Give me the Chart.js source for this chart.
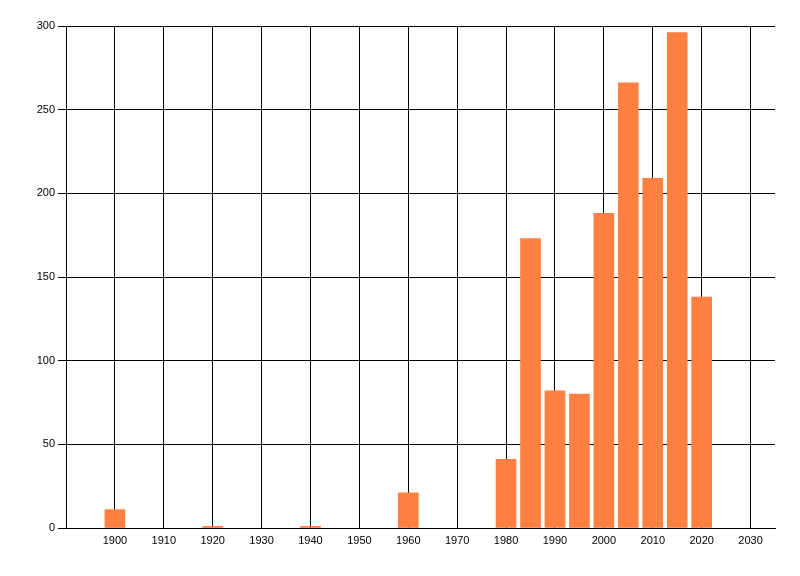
<!DOCTYPE html>
<html lang="en">
<head>
    <meta charset="UTF-8">
    <title>Counts per year</title>
    <style>
        body {
            margin: 0;
            padding: 0;
            background-color: #fff;
        }
        canvas {
            display: block;
        }
    </style>
</head>
<body>

<canvas id="yearChart" width="800" height="576"></canvas>

<script src="https://cdn.jsdelivr.net/npm/chart.js"></script>
<script>
    // values
    const years = [1900, 1920, 1940, 1960, 1980, 1985, 1990, 1995, 2000, 2005, 2010, 2015, 2020];
    const counts = [11, 1, 1, 21, 41, 173, 82, 80, 188, 266, 209, 296, 138];
    const xTicks = [1900, 1910, 1920, 1930, 1940, 1950, 1960, 1970, 1980, 1990, 2000, 2010, 2020, 2030];
    const yTicks = [0, 50, 100, 150, 200, 250, 300];

    const points = years.map((y, i) => ({ x: y, y: counts[i] }));

    Chart.defaults.font.family = "'Liberation Sans', Arial, sans-serif";
    Chart.defaults.font.size = 11;
    Chart.defaults.color = '#000';

    const ctx = document.getElementById('yearChart').getContext('2d');
    const yearChart = new Chart(ctx, {
        type: 'bar',
        data: {
            datasets: [{
                data: points,
                backgroundColor: '#ff8040',
                borderWidth: 0,
                barThickness: 20
            }]
        },
        options: {
            responsive: false,
            animation: false,
            layout: {
                padding: { top: 26, right: 25, left: 0, bottom: 0 }
            },
            plugins: {
                legend: { display: false },
                tooltip: { enabled: false }
            },
            scales: {
                x: {
                    type: 'linear',
                    min: 1890,
                    max: 2035,
                    offset: false,
                    afterBuildTicks: axis => {
                        axis.ticks = xTicks.map(v => ({ value: v }));
                    },
                    afterFit: axis => { axis.height = 48; },
                    ticks: {
                        padding: 6,
                        maxRotation: 0,
                        callback: v => String(v)
                    },
                    grid: {
                        color: '#000',
                        lineWidth: 1,
                        offset: false,
                        drawTicks: false
                    },
                    border: { color: '#000', width: 1 }
                },
                y: {
                    min: 0,
                    max: 300,
                    afterBuildTicks: axis => {
                        axis.ticks = yTicks.map(v => ({ value: v }));
                    },
                    afterFit: axis => { axis.width = 66; },
                    ticks: {
                        padding: 3
                    },
                    grid: {
                        color: '#000',
                        lineWidth: 1,
                        tickLength: 8
                    },
                    border: { color: '#000', width: 1 }
                }
            }
        }
    });
</script>

</body>
</html>
